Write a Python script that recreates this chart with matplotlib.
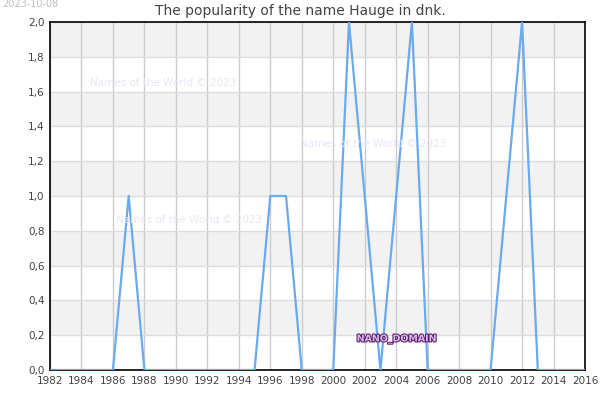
import matplotlib
matplotlib.use("Agg")
import matplotlib.pyplot as plt
import matplotlib.patheffects as pe
from matplotlib.ticker import FuncFormatter, MultipleLocator

years = list(range(1982, 2017))
values = [0, 0, 0, 0, 0, 1, 0, 0, 0, 0, 0, 0, 0, 0, 1, 1, 0, 0, 0, 2, 1, 0, 1, 2, 0,
          0, 0, 0, 0, 1, 2, 0, 0, 0, 0]
title = "The popularity of the name Hauge in dnk."
date_label = "2023-10-08"
watermark = "Names of the World © 2023"
domain_label = "NANO_DOMAIN"

fig = plt.figure(figsize=(6, 4), dpi=100)
ax = fig.add_axes([50/600, 30/400, 535/600, 348/400])

ax.set_xlim(1982, 2016)
ax.set_ylim(0, 2.0)

# alternating bands
y = 0.2
while y < 2.0:
    ax.axhspan(y, y + 0.2, color="#f2f2f2", zorder=0, lw=0)
    y += 0.4

ax.xaxis.set_major_locator(MultipleLocator(2))
ax.yaxis.set_major_locator(MultipleLocator(0.2))
ax.yaxis.set_major_formatter(FuncFormatter(lambda v, p: f"{v:.1f}".replace(".", ",")))
ax.grid(True, axis="x", color="#cccccc", lw=1, zorder=1)
ax.grid(True, axis="y", color="#dddddd", lw=1, zorder=1)
ax.set_axisbelow(True)

ax.plot(years, values, color="#6aaaf0", lw=1.6, zorder=3)

for s in ax.spines.values():
    s.set_color("black")
    s.set_linewidth(1.2)
ax.tick_params(length=0, labelsize=7.5, colors="#444444", pad=4)

fig.text(0.5, 1 - 10.5/400, title, ha="center", va="center", fontsize=10, color="#444444")
fig.text(2/600, 1 - 4/400, date_label, ha="left", va="center", fontsize=7, color="#bbbbbb")

wm_color = "#e6e6f8"
for (px, py) in [(90, 83), (300, 144), (116, 220)]:
    fig.text(px/600, 1 - py/400, watermark, ha="left", va="center", fontsize=7.5, color=wm_color, zorder=2)

fig.text(397/600, 1 - 339/400, domain_label, ha="center", va="center", fontsize=6.8,
         color="#d8b8e8", fontweight="bold",
         path_effects=[pe.withStroke(linewidth=1.5, foreground="#5a1e6a")])

fig.savefig("out.png", dpi=100)
